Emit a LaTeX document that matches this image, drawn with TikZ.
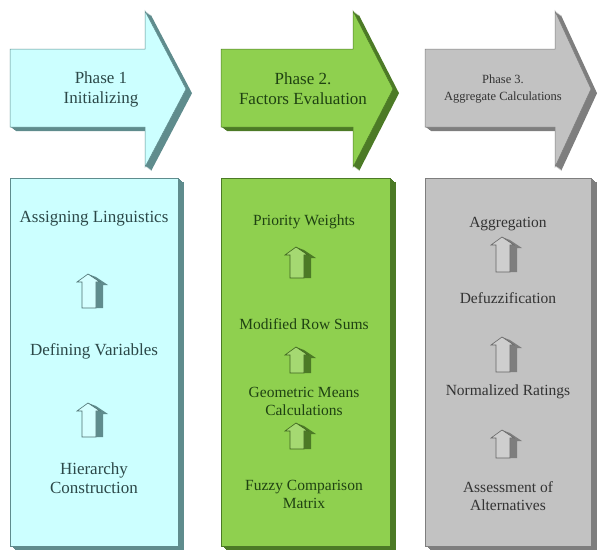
\documentclass[tikz,border=0pt]{standalone}
\usepackage{fontspec}
\setmainfont{Liberation Serif}
\usetikzlibrary{positioning}

\definecolor{bluefill}{HTML}{CCFFFF}
\definecolor{blueside}{HTML}{5F8C8D}
\definecolor{bluetext}{HTML}{2C4848}
\definecolor{greenfill}{HTML}{8FD04F}
\definecolor{greenside}{HTML}{4C7A26}
\definecolor{greentext}{HTML}{1F4212}
\definecolor{grayfill}{HTML}{C2C2C2}
\definecolor{grayside}{HTML}{7E7E7E}
\definecolor{graytext}{HTML}{333333}

\tikzset{
  phaseshape/.style={line width=0.5pt, line join=miter},
  phasetext/.style={align=center, font=\fontsize{17}{20}\selectfont},
  smallphasetext/.style={align=center, font=\fontsize{12.5}{17}\selectfont},
  steptext/.style={align=center, font=\fontsize{17}{19}\selectfont},
  smallsteptext/.style={align=center, font=\fontsize{15.5}{18}\selectfont},
}

% small 3d up arrow: #1 peak, #2 length, #3 face colour, #4 side colour
\newcommand{\upicon}[4]{%
  \begin{scope}[shift={#1}]
    \fill[#4] (0,0) -- (8,3) -- (20,11) -- (15,11) -- (15,#2) -- (8,#2) -- (8,8) -- (12,8) -- cycle;
    \filldraw[fill=#3!80!white, draw=#4!80!black, line width=0.6pt, line join=miter]
      (0,0) -- (-11,8) -- (-6,8) -- (-6,#2) -- (8,#2) -- (8,8) -- (12,8) -- cycle;
  \end{scope}}

\begin{document}
\begin{tikzpicture}[x=1pt,y=-1pt]
\useasboundingbox (0,0) rectangle (598,555);

% phase arrows and boxes, the depth is a stack of shifted copies
\foreach \L/\H/\T/\R/\fc/\dc in {10/145/186/178/bluefill/blueside,
    221/353/393/390/greenfill/greenside,
    425/555/591/591/grayfill/grayside}{
  \foreach \s in {1,...,6}{
    \fill[\dc, shift={(\s,0.7*\s)}] (\L,49) -- (\H,49) -- (\H,11) -- (\T,89) -- (\H,167) -- (\H,127) -- (\L,127) -- cycle;
    \fill[\dc, shift={(\s,0.7*\s)}] (\L,178) rectangle (\R,546);
  }
  \filldraw[phaseshape, fill=\fc, draw=\dc] (\L,49) -- (\H,49) -- (\H,11) -- (\T,89) -- (\H,167) -- (\H,127) -- (\L,127) -- cycle;
  \filldraw[phaseshape, fill=\fc, draw=\dc] (\L,178) rectangle (\R,546);
}

% headers
\node[phasetext, text=bluetext] (phaseA) at (101,89) {Phase 1\\Initializing};
\node[phasetext, text=greentext] (phaseB) at (303,89) {Phase 2.\\Factors Evaluation};
\node[smallphasetext, text=graytext] (phaseC) at (503,89) {Phase 3.\\Aggregate Calculations};

% phase 1
\node[steptext, text=bluetext] (assign) at (94,219) {Assigning Linguistics};
\node[steptext, text=bluetext] (define) at (94,351) {Defining Variables};
\node[steptext, text=bluetext] (hier) at (94,478) {Hierarchy\\Construction};
\upicon{(88,274)}{34}{bluefill}{blueside}
\upicon{(88,403)}{34}{bluefill}{blueside}

% phase 2
\node[smallsteptext, text=greentext] (prior) at (304,222) {Priority Weights};
\node[smallsteptext, text=greentext] (rowsum) at (304,324) {Modified Row Sums};
\node[smallsteptext, text=greentext] (geomean) at (304,401) {Geometric Means\\Calculations};
\node[smallsteptext, text=greentext] (fuzzy) at (304,494) {Fuzzy Comparison\\Matrix};
\upicon{(296,247)}{31}{greenfill}{greenside}
\upicon{(296,347)}{26}{greenfill}{greenside}
\upicon{(296,423)}{26}{greenfill}{greenside}

% phase 3
\node[smallsteptext, text=graytext] (aggr) at (508,224) {Aggregation};
\node[smallsteptext, text=graytext] (defuzz) at (508,298) {Defuzzification};
\node[smallsteptext, text=graytext] (normal) at (508,392) {Normalized Ratings};
\node[smallsteptext, text=graytext] (assess) at (508,496) {Assessment of\\Alternatives};
\upicon{(502,237)}{35}{grayfill}{grayside}
\upicon{(502,337)}{35}{grayfill}{grayside}
\upicon{(502,430)}{28}{grayfill}{grayside}
\end{tikzpicture}
\end{document}
